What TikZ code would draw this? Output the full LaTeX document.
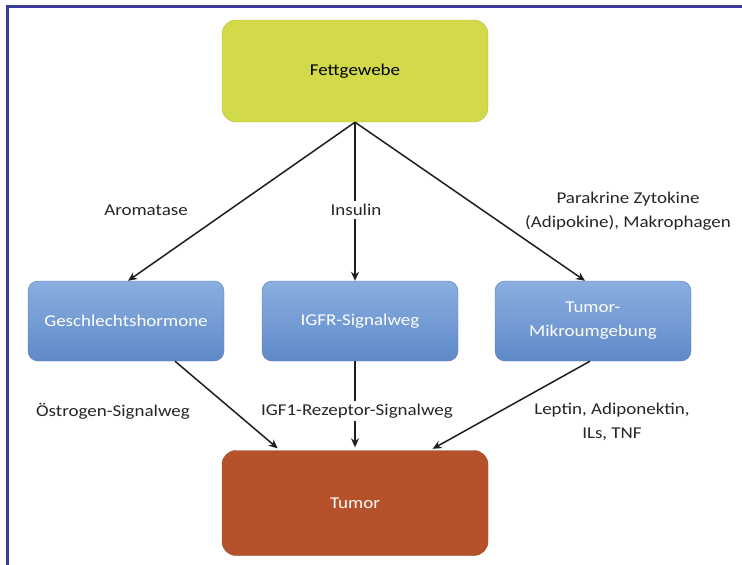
\documentclass[tikz,border=0pt]{standalone}
\usepackage{fontspec}
\setmainfont{Carlito}[FakeStretch=1.15]
\definecolor{fettYellow}{HTML}{D3DA4A}
\definecolor{pathBlue}{HTML}{8AAEE0}
\definecolor{pathBlueDark}{HTML}{5F89C8}
\definecolor{tumorRust}{HTML}{B6522B}
\definecolor{frameBlue}{HTML}{3B3B99}
\definecolor{arrowBlack}{HTML}{1E1E1E}
\usetikzlibrary{arrows.meta, positioning}
\tikzset{
    fat node/.style={rectangle, rounded corners=14pt, draw=fettYellow!85!black, fill=fettYellow, minimum width=266pt, minimum height=102pt, align=center, font=\fontsize{16.5}{24}\selectfont},
    path node/.style={rectangle, rounded corners=10pt, draw=pathBlueDark!90!black, top color=pathBlue, bottom color=pathBlueDark, text=white, minimum width=196pt, minimum height=80pt, align=center, font=\fontsize{16.5}{24}\selectfont},
    tumor node/.style={rectangle, rounded corners=14pt, draw=tumorRust!85!black, fill=tumorRust, text=white, minimum width=266pt, minimum height=105pt, align=center, font=\fontsize{16.5}{24}\selectfont},
    label text/.style={align=center, fill=white, inner sep=3pt, text=black!85, font=\fontsize{16.5}{24}\selectfont},
    arrow style/.style={-{Stealth[length=9pt, width=8pt]}, line width=1.5pt, arrowBlack},
    frame line/.style={frameBlue, line width=3pt},
}
\begin{document}
\begin{tikzpicture}[x=1pt, y=-1pt]
    \useasboundingbox (0,0) rectangle (742,565);
    \draw[frame line] (7.5,565) -- (7.5,6.5) -- (742,6.5);

    % boxes
    \node[fat node] (fett) at (355,71) {Fettgewebe};
    \node[path node] (gesch) at (126,321) {Geschlechtshormone};
    \node[path node] (igfr) at (360,321) {IGFR-Signalweg};
    \node[path node] (tumw) at (593,321) {Tumor-\\Mikroumgebung};
    \node[tumor node] (tumor) at (355,503) {Tumor};

    % arrows
    \draw[arrow style] (fett.south) -- ([xshift=2pt]gesch.north);
    \draw[arrow style] (fett.south) -- (fett.south |- igfr.north);
    \draw[arrow style] (fett.south) -- ([xshift=-8pt]tumw.north);
    \draw[arrow style, shorten >=3pt] ([xshift=49pt]gesch.south) -- ([xshift=-75pt]tumor.north);
    \draw[arrow style, shorten >=3pt] (igfr.south -| tumor.north) -- (tumor.north);
    \draw[arrow style, shorten >=3pt] ([xshift=-3pt]tumw.south) -- ([xshift=75pt]tumor.north);

    % labels
    \node[label text] (aroma) at (146,210) {Aromatase};
    \node[label text] (insul) at (356,210) {Insulin};
    \node[label text] (parak) at (628,211) {Parakrine Zytokine\\(Adipokine), Makrophagen};
    \node[label text] (oestr) at (113,411) {Östrogen-Signalweg};
    \node[label text] (igfone) at (357,411) {IGF1-Rezeptor-Signalweg};
    \node[label text] (lepti) at (612,422) {Leptin, Adiponektin,\\ILs, TNF};
\end{tikzpicture}
\end{document}
